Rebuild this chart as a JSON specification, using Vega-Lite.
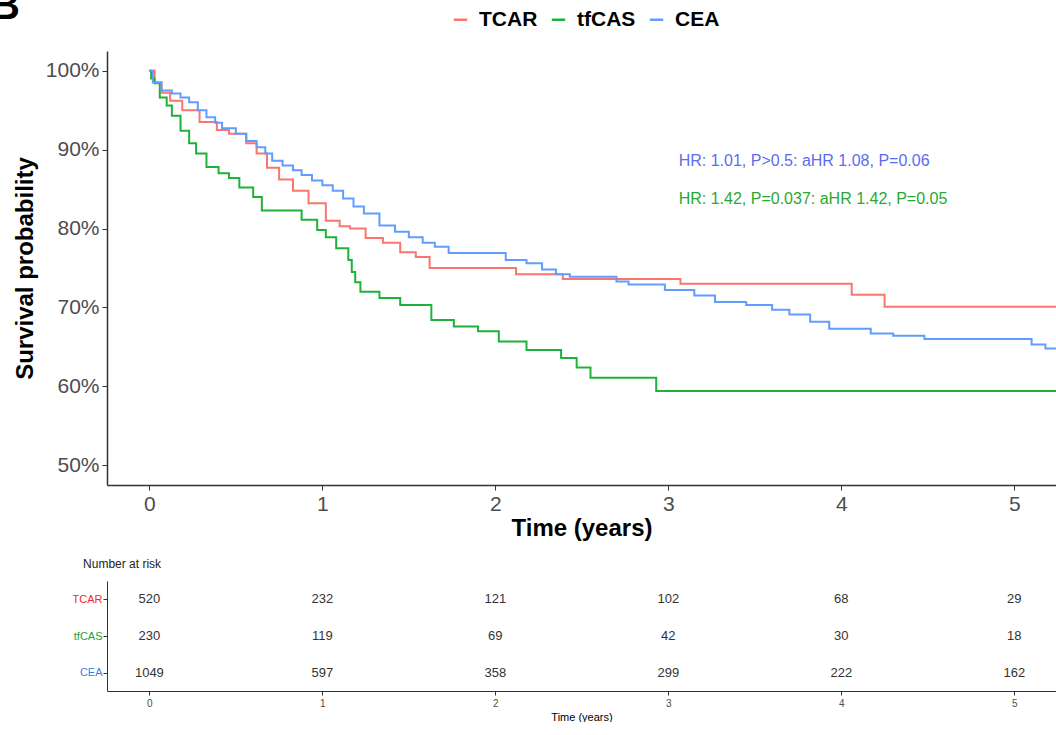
{
  "$schema": "https://vega.github.io/schema/vega-lite/v6.json",
  "padding": {"left": -9, "top": -14, "right": 0, "bottom": 0},
  "background": "white",
  "config": {
    "font": "Liberation Sans",
    "view": {"stroke": null},
    "axis": {"grid": false, "domainColor": "#333333", "tickColor": "#333333", "labelColor": "#4d4d4d", "titleColor": "#000000"}
  },
  "datasets": {
    "km": [
      {"group": "TCAR", "t": 0, "s": 1}, {"group": "TCAR", "t": 0.03, "s": 0.985}, {"group": "TCAR", "t": 0.07, "s": 0.972}, {"group": "TCAR", "t": 0.12, "s": 0.962}, {"group": "TCAR", "t": 0.19, "s": 0.95}, {"group": "TCAR", "t": 0.29, "s": 0.935}, {"group": "TCAR", "t": 0.39, "s": 0.925}, {"group": "TCAR", "t": 0.46, "s": 0.92}, {"group": "TCAR", "t": 0.56, "s": 0.908}, {"group": "TCAR", "t": 0.62, "s": 0.895}, {"group": "TCAR", "t": 0.68, "s": 0.877}, {"group": "TCAR", "t": 0.75, "s": 0.862}, {"group": "TCAR", "t": 0.83, "s": 0.848}, {"group": "TCAR", "t": 0.92, "s": 0.832}, {"group": "TCAR", "t": 1.02, "s": 0.81}, {"group": "TCAR", "t": 1.1, "s": 0.803}, {"group": "TCAR", "t": 1.16, "s": 0.8}, {"group": "TCAR", "t": 1.25, "s": 0.788}, {"group": "TCAR", "t": 1.35, "s": 0.782}, {"group": "TCAR", "t": 1.45, "s": 0.77}, {"group": "TCAR", "t": 1.54, "s": 0.764}, {"group": "TCAR", "t": 1.62, "s": 0.75}, {"group": "TCAR", "t": 2.12, "s": 0.742}, {"group": "TCAR", "t": 2.39, "s": 0.736}, {"group": "TCAR", "t": 3.07, "s": 0.73}, {"group": "TCAR", "t": 4.06, "s": 0.716}, {"group": "TCAR", "t": 4.25, "s": 0.701}, {"group": "TCAR", "t": 5.3, "s": 0.701},
      {"group": "tfCAS", "t": 0, "s": 1}, {"group": "tfCAS", "t": 0.01, "s": 0.99}, {"group": "tfCAS", "t": 0.03, "s": 0.984}, {"group": "tfCAS", "t": 0.06, "s": 0.966}, {"group": "tfCAS", "t": 0.1, "s": 0.956}, {"group": "tfCAS", "t": 0.13, "s": 0.943}, {"group": "tfCAS", "t": 0.18, "s": 0.924}, {"group": "tfCAS", "t": 0.23, "s": 0.908}, {"group": "tfCAS", "t": 0.27, "s": 0.895}, {"group": "tfCAS", "t": 0.33, "s": 0.878}, {"group": "tfCAS", "t": 0.4, "s": 0.87}, {"group": "tfCAS", "t": 0.46, "s": 0.864}, {"group": "tfCAS", "t": 0.52, "s": 0.852}, {"group": "tfCAS", "t": 0.6, "s": 0.84}, {"group": "tfCAS", "t": 0.65, "s": 0.823}, {"group": "tfCAS", "t": 0.88, "s": 0.811}, {"group": "tfCAS", "t": 0.97, "s": 0.798}, {"group": "tfCAS", "t": 1.02, "s": 0.789}, {"group": "tfCAS", "t": 1.08, "s": 0.775}, {"group": "tfCAS", "t": 1.15, "s": 0.76}, {"group": "tfCAS", "t": 1.17, "s": 0.745}, {"group": "tfCAS", "t": 1.19, "s": 0.732}, {"group": "tfCAS", "t": 1.22, "s": 0.72}, {"group": "tfCAS", "t": 1.33, "s": 0.712}, {"group": "tfCAS", "t": 1.45, "s": 0.703}, {"group": "tfCAS", "t": 1.63, "s": 0.684}, {"group": "tfCAS", "t": 1.76, "s": 0.676}, {"group": "tfCAS", "t": 1.9, "s": 0.67}, {"group": "tfCAS", "t": 2.02, "s": 0.657}, {"group": "tfCAS", "t": 2.18, "s": 0.646}, {"group": "tfCAS", "t": 2.38, "s": 0.636}, {"group": "tfCAS", "t": 2.47, "s": 0.624}, {"group": "tfCAS", "t": 2.55, "s": 0.611}, {"group": "tfCAS", "t": 2.93, "s": 0.594}, {"group": "tfCAS", "t": 5.3, "s": 0.594},
      {"group": "CEA", "t": 0, "s": 1}, {"group": "CEA", "t": 0.02, "s": 0.985}, {"group": "CEA", "t": 0.07, "s": 0.975}, {"group": "CEA", "t": 0.13, "s": 0.971}, {"group": "CEA", "t": 0.18, "s": 0.966}, {"group": "CEA", "t": 0.23, "s": 0.96}, {"group": "CEA", "t": 0.28, "s": 0.95}, {"group": "CEA", "t": 0.33, "s": 0.941}, {"group": "CEA", "t": 0.38, "s": 0.934}, {"group": "CEA", "t": 0.42, "s": 0.927}, {"group": "CEA", "t": 0.5, "s": 0.92}, {"group": "CEA", "t": 0.56, "s": 0.911}, {"group": "CEA", "t": 0.62, "s": 0.903}, {"group": "CEA", "t": 0.67, "s": 0.895}, {"group": "CEA", "t": 0.71, "s": 0.886}, {"group": "CEA", "t": 0.77, "s": 0.88}, {"group": "CEA", "t": 0.83, "s": 0.874}, {"group": "CEA", "t": 0.88, "s": 0.868}, {"group": "CEA", "t": 0.94, "s": 0.861}, {"group": "CEA", "t": 1.0, "s": 0.855}, {"group": "CEA", "t": 1.06, "s": 0.848}, {"group": "CEA", "t": 1.12, "s": 0.838}, {"group": "CEA", "t": 1.18, "s": 0.828}, {"group": "CEA", "t": 1.24, "s": 0.819}, {"group": "CEA", "t": 1.33, "s": 0.804}, {"group": "CEA", "t": 1.42, "s": 0.796}, {"group": "CEA", "t": 1.5, "s": 0.789}, {"group": "CEA", "t": 1.58, "s": 0.782}, {"group": "CEA", "t": 1.65, "s": 0.777}, {"group": "CEA", "t": 1.73, "s": 0.769}, {"group": "CEA", "t": 2.06, "s": 0.76}, {"group": "CEA", "t": 2.18, "s": 0.756}, {"group": "CEA", "t": 2.27, "s": 0.748}, {"group": "CEA", "t": 2.35, "s": 0.742}, {"group": "CEA", "t": 2.43, "s": 0.739}, {"group": "CEA", "t": 2.7, "s": 0.733}, {"group": "CEA", "t": 2.77, "s": 0.729}, {"group": "CEA", "t": 2.98, "s": 0.722}, {"group": "CEA", "t": 3.15, "s": 0.715}, {"group": "CEA", "t": 3.27, "s": 0.707}, {"group": "CEA", "t": 3.45, "s": 0.703}, {"group": "CEA", "t": 3.6, "s": 0.697}, {"group": "CEA", "t": 3.7, "s": 0.691}, {"group": "CEA", "t": 3.82, "s": 0.682}, {"group": "CEA", "t": 3.93, "s": 0.673}, {"group": "CEA", "t": 4.17, "s": 0.667}, {"group": "CEA", "t": 4.3, "s": 0.664}, {"group": "CEA", "t": 4.48, "s": 0.66}, {"group": "CEA", "t": 5.1, "s": 0.653}, {"group": "CEA", "t": 5.18, "s": 0.648}, {"group": "CEA", "t": 5.3, "s": 0.645}
    ],
    "risk": [
      {"group": "TCAR", "t": 0, "n": 520}, {"group": "TCAR", "t": 1, "n": 232}, {"group": "TCAR", "t": 2, "n": 121}, {"group": "TCAR", "t": 3, "n": 102}, {"group": "TCAR", "t": 4, "n": 68}, {"group": "TCAR", "t": 5, "n": 29},
      {"group": "tfCAS", "t": 0, "n": 230}, {"group": "tfCAS", "t": 1, "n": 119}, {"group": "tfCAS", "t": 2, "n": 69}, {"group": "tfCAS", "t": 3, "n": 42}, {"group": "tfCAS", "t": 4, "n": 30}, {"group": "tfCAS", "t": 5, "n": 18},
      {"group": "CEA", "t": 0, "n": 1049}, {"group": "CEA", "t": 1, "n": 597}, {"group": "CEA", "t": 2, "n": 358}, {"group": "CEA", "t": 3, "n": 299}, {"group": "CEA", "t": 4, "n": 222}, {"group": "CEA", "t": 5, "n": 162}
    ]
  },
  "spacing": 18,
  "vconcat": [
    {
      "width": 949,
      "height": 434,
      "layer": [
        {
          "data": {"name": "km"},
          "mark": {"type": "line", "interpolate": "step-after", "strokeWidth": 2, "clip": true},
          "encoding": {
            "x": {"field": "t", "type": "quantitative", "scale": {"domain": [-0.245, 5.241], "nice": false, "zero": false},
                  "axis": {"values": [0, 1, 2, 3, 4, 5], "format": "d", "title": "Time (years)", "titleFontSize": 24, "titleFontWeight": "bold", "labelFontSize": 21, "tickSize": 5, "labelPadding": 3, "titlePadding": 2, "domainWidth": 1.5}},
            "y": {"field": "s", "type": "quantitative", "scale": {"domain": [0.475, 1.025], "nice": false, "zero": false},
                  "axis": {"values": [0.5, 0.6, 0.7, 0.8, 0.9, 1.0], "format": ".0%", "title": "Survival probability", "titleFontSize": 24, "titleFontWeight": "bold", "labelFontSize": 21, "tickSize": 5, "labelPadding": 3, "titlePadding": 8, "domainWidth": 1.5}},
            "color": {"field": "group", "type": "nominal",
                      "scale": {"domain": ["TCAR", "tfCAS", "CEA"], "range": ["#F8766D", "#1DB33A", "#619CFF"]},
                      "legend": {"title": null, "orient": "none", "direction": "horizontal", "legendX": 343, "legendY": -42, "symbolType": "stroke", "symbolStrokeWidth": 2.5, "symbolSize": 180, "labelFontSize": 21, "labelFontWeight": "bold", "labelColor": "#000000", "columnPadding": 8, "labelOffset": 8}}
          }
        },
        {
          "data": {"values": [{}]},
          "mark": {"type": "text", "text": "HR: 1.01, P>0.5: aHR 1.08, P=0.06", "align": "left", "baseline": "middle", "fontSize": 16, "color": "#5b6cf0"},
          "encoding": {"x": {"datum": 3.06}, "y": {"datum": 0.886}}
        },
        {
          "data": {"values": [{}]},
          "mark": {"type": "text", "text": "HR: 1.42, P=0.037: aHR 1.42, P=0.05", "align": "left", "baseline": "middle", "fontSize": 16, "color": "#2aa832"},
          "encoding": {"x": {"datum": 3.06}, "y": {"datum": 0.838}}
        },
        {
          "data": {"values": [{}]},
          "mark": {"type": "text", "text": "B", "align": "right", "baseline": "alphabetic", "fontSize": 40, "fontWeight": "bold", "color": "#000000"},
          "encoding": {"x": {"datum": -0.748}, "y": {"datum": 1.066}}
        }
      ]
    },
    {
      "width": 949,
      "height": 110,
      "title": {"text": "Number at risk", "anchor": "start", "fontSize": 12, "fontWeight": "normal", "color": "#222222", "dx": 11, "offset": 10},
      "data": {"name": "risk"},
      "mark": {"type": "text", "fontSize": 13, "color": "#333333"},
      "encoding": {
        "x": {"field": "t", "type": "quantitative", "scale": {"domain": [-0.245, 5.241], "nice": false, "zero": false},
              "axis": {"values": [0, 1, 2, 3, 4, 5], "format": "d", "title": "Time (years)", "titleFontSize": 11, "titleFontWeight": "normal", "labelFontSize": 10, "tickSize": 4, "labelPadding": 3, "titlePadding": 3}},
        "y": {"field": "group", "type": "nominal", "sort": ["TCAR", "tfCAS", "CEA"], "scale": {"type": "point", "padding": 0.5},
              "axis": {"title": null, "labelFontSize": 11, "tickSize": 4, "labelPadding": 1,
                       "labelColor": {"condition": [{"test": "datum.value === 'TCAR'", "value": "#ee2a2a"}, {"test": "datum.value === 'tfCAS'", "value": "#22a33a"}], "value": "#3b7fe0"}}},
        "text": {"field": "n", "type": "quantitative"}
      }
    }
  ]
}
